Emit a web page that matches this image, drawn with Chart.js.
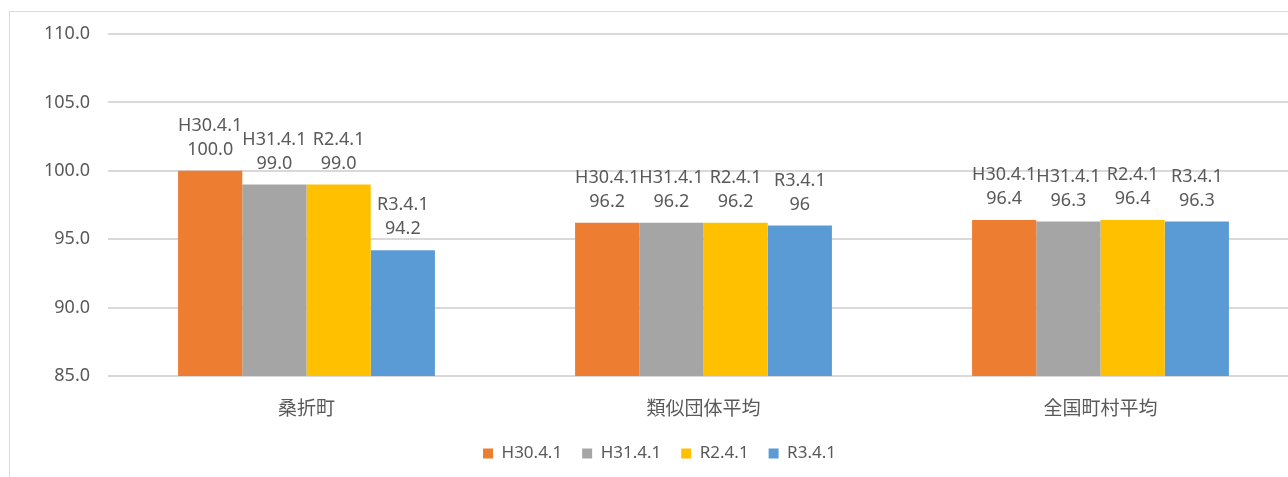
<!doctype html>
<html>
<head>
<meta charset="utf-8">
<title>Chart</title>
<script src="https://cdn.jsdelivr.net/npm/chart.js@4.4.1/dist/chart.umd.min.js"></script>
<style>
  html, body { margin: 0; padding: 0; background: #ffffff; overflow: hidden; width: 1288px; height: 477px; }
  .frame { position: absolute; left: 9px; top: 11px; width: 1400px; height: 600px; border: 1px solid #d9d9d9; box-sizing: border-box; }
  #chart { position: absolute; left: 0; top: 0; }
</style>
</head>
<body>
<div class="frame"></div>
<canvas id="chart" width="1299" height="490"></canvas>
<script>
// Chart data
const categories = ['桑折町', '類似団体平均', '全国町村平均'];
const seriesNames = ['H30.4.1', 'H31.4.1', 'R2.4.1', 'R3.4.1'];
const h30Values = [100.0, 96.2, 96.4];
const h31Values = [99.0, 96.2, 96.3];
const r2Values = [99.0, 96.2, 96.4];
const r3Values = [94.2, 96.0, 96.3];
// decimals used by the data labels per category (null = general format)
const labelDecimals = [1, null, null];
const seriesColors = ['#ED7D31', '#A5A5A5', '#FFC000', '#5B9BD5'];

const FONT = '"Noto Sans", "Noto Sans CJK JP", sans-serif';
const TEXT = '#595959';

function fmt(v, d) {
  return d == null ? String(v) : v.toFixed(d);
}

// two-line labels above each bar: series name, then value
const barLabels = {
  id: 'barLabels',
  afterDatasetsDraw(chart) {
    const ctx = chart.ctx;
    ctx.save();
    ctx.font = '18px ' + FONT;
    ctx.fillStyle = TEXT;
    ctx.textAlign = 'center';
    ctx.textBaseline = 'middle';
    chart.data.datasets.forEach((ds, i) => {
      chart.getDatasetMeta(i).data.forEach((bar, j) => {
        ctx.fillText(ds.label, bar.x, bar.y - 45);
        ctx.fillText(fmt(ds.data[j], labelDecimals[j]), bar.x, bar.y - 21);
      });
    });
    ctx.restore();
  }
};

const allValues = [h30Values, h31Values, r2Values, r3Values];

new Chart(document.getElementById('chart'), {
  type: 'bar',
  data: {
    labels: categories,
    datasets: seriesNames.map((name, i) => ({
      label: name,
      data: allValues[i],
      backgroundColor: seriesColors[i],
      borderWidth: 0,
      categoryPercentage: 0.647,
      barPercentage: 1.0
    }))
  },
  options: {
    responsive: false,
    animation: false,
    devicePixelRatio: 1,
    layout: { padding: { top: 34, left: 20, right: 0, bottom: 18 } },
    plugins: {
      tooltip: { enabled: false },
      legend: {
        position: 'bottom',
        labels: {
          boxWidth: 10,
          boxHeight: 10,
          padding: 20,
          color: TEXT,
          font: { family: FONT, size: 17 }
        }
      }
    },
    scales: {
      x: {
        grid: { display: false },
        border: { display: false },
        ticks: { color: TEXT, font: { family: FONT, size: 19 }, padding: 14 },
        afterFit(s) { s.height = 49; }
      },
      y: {
        min: 85,
        max: 110,
        ticks: {
          stepSize: 5,
          color: TEXT,
          font: { family: FONT, size: 18 },
          padding: 18,
          callback: (v) => v.toFixed(1)
        },
        grid: { color: '#d9d9d9', lineWidth: 2, drawTicks: false },
        border: { display: false },
        afterFit(s) { s.width = 88; }
      }
    }
  },
  plugins: [barLabels]
});
</script>
</body>
</html>
